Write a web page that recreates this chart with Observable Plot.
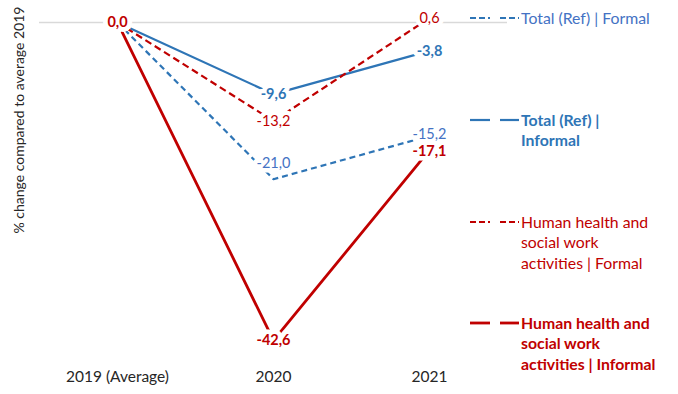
<!DOCTYPE html>
<html><head><meta charset="utf-8">
<script src="https://cdn.jsdelivr.net/npm/d3@7"></script>
<script src="https://cdn.jsdelivr.net/npm/@observablehq/plot@0.6"></script>
<style>
body{margin:0;background:#fff;font-family:Lato,"Liberation Sans",sans-serif}
#wrap{position:relative;width:678px;height:394px;overflow:hidden}
#wrap svg{display:block}
.ytitle{position:absolute;left:18px;top:120px;transform:translate(-50%,-50%) rotate(-90deg);white-space:nowrap;font-size:14px;color:#262626}
.leg{position:absolute;left:521px;font-size:15.8px;line-height:20.5px;width:160px;white-space:nowrap}
</style></head><body><div id="wrap"></div>
<script>
const years = ["2019 (Average)", "2020", "2021"];
const seriesNames = [
  "Total (Ref) | Formal",
  "Total (Ref) | Informal",
  "Human health and social work activities | Formal",
  "Human health and social work activities | Informal"
];
const totalFormal = [0.0, -21.0, -15.2];
const totalInformal = [0.0, -9.6, -3.8];
const healthFormal = [0.0, -13.2, 0.6];
const healthInformal = [0.0, -42.6, -17.1];
const yTitle = "% change compared to average 2019";

const seriesValues = [totalFormal, totalInformal, healthFormal, healthInformal];
const lineColors = ["#2e75b6", "#2e75b6", "#c00000", "#c00000"];
const labelColors = ["#4472c4", "#2e75b6", "#c00000", "#c00000"];
const dashes = ["6,4", null, "7,4", null];
const widths = [2.2, 2.2, 2.2, 2.8];
const bold = [false, true, false, true];

const rows = [];
seriesNames.forEach((s, i) => seriesValues[i].forEach((v, j) => rows.push({series: s, si: i, year: years[j], j, value: v})));
const fmt = v => v.toFixed(1).replace(".", ",");

const marks = [Plot.ruleY([0], {stroke: "#d9d9d9", strokeWidth: 1.3})];
seriesNames.forEach((s, i) => {
  marks.push(Plot.line(rows.filter(d => d.si === i), {
    x: "year", y: "value", stroke: lineColors[i], strokeWidth: widths[i],
    strokeDasharray: dashes[i], strokeLinecap: "butt"
  }));
});
const labelOpts = i => ({x: "year", y: "value", text: d => fmt(d.value), fill: labelColors[i],
  fontWeight: bold[i] ? "bold" : "normal", fontSize: 14.5});
// small nudges so neighbouring labels do not collide (as in the reference)
const dyFor = (i, j) => (i === 0 && j === 1) ? -16 : (i === 0 && j === 2) ? -1.5 : (i === 3 && j === 2) ? 1.5 : 0;
seriesNames.forEach((s, i) => {
  [1, 2].forEach(j => {
    const data = rows.filter(d => d.si === i && d.j === j);
    marks.push(Plot.text(data, {...labelOpts(i), dy: dyFor(i, j), fill: "white", stroke: "white", strokeWidth: 9, strokeLinejoin: "round"}));
  });
});
seriesNames.forEach((s, i) => {
  [1, 2].forEach(j => {
    const data = rows.filter(d => d.si === i && d.j === j);
    marks.push(Plot.text(data, {...labelOpts(i), dy: dyFor(i, j)}));
  });
});
seriesNames.forEach((s, i) => {
  const data = rows.filter(d => d.si === i && d.j === 0);
  marks.push(Plot.text(data, {...labelOpts(i), stroke: "white", strokeWidth: 9, paintOrder: "stroke", strokeLinejoin: "round"}));
});
marks.push(Plot.axisX({tickSize: 0, tickPadding: 4, label: null, fontSize: 15.5}));

const chart = Plot.plot({
  width: 678, height: 394,
  marginLeft: 39, marginRight: 171, marginTop: 0, marginBottom: 28,
  style: {fontFamily: "Lato, 'Liberation Sans', sans-serif", color: "#262626", background: "white"},
  x: {type: "point", domain: years, padding: 0.5, axis: null},
  y: {domain: [-46.1, 2.95], axis: null},
  marks
});
const wrap = document.getElementById("wrap");
wrap.appendChild(chart);

const t = document.createElement("div");
t.className = "ytitle"; t.textContent = yTitle; wrap.appendChild(t);

const legLines = [
  ["Total (Ref) | Formal"],
  ["Total (Ref) |", "Informal"],
  ["Human health and", "social work", "activities | Formal"],
  ["Human health and", "social work", "activities | Informal"]
];
const legTop = [18, 120, 222, 323];
legLines.forEach((lines, i) => {
  const d = document.createElement("div");
  d.className = "leg";
  d.style.top = (legTop[i] - 10.25) + "px";
  d.style.color = labelColors[i];
  d.style.fontWeight = bold[i] ? "bold" : "normal";
  d.innerHTML = lines.join("<br>");
  wrap.appendChild(d);
  const ns = "http://www.w3.org/2000/svg";
  const sw = document.createElementNS(ns, "svg");
  sw.setAttribute("width", 52); sw.setAttribute("height", 8);
  sw.style.position = "absolute"; sw.style.left = "468px"; sw.style.top = (legTop[i] - 4) + "px";
  [[2, 22], [32, 51]].forEach(([a, b]) => {
    const l = document.createElementNS(ns, "line");
    l.setAttribute("x1", a); l.setAttribute("x2", b); l.setAttribute("y1", 4); l.setAttribute("y2", 4);
    l.setAttribute("stroke", lineColors[i]); l.setAttribute("stroke-width", widths[i]);
    if (dashes[i]) l.setAttribute("stroke-dasharray", "6,3");
    sw.appendChild(l);
  });
  wrap.appendChild(sw);
});
</script></body></html>
